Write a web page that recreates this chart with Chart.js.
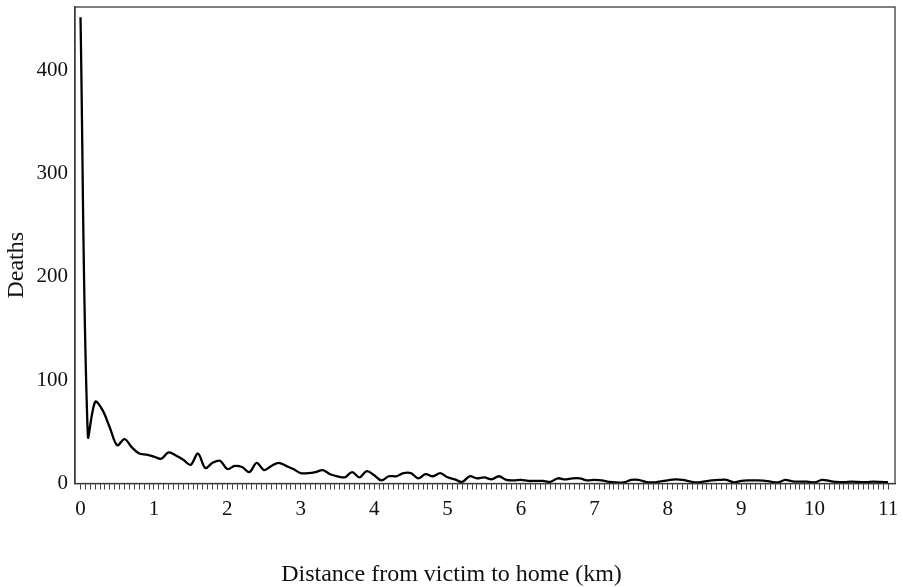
<!DOCTYPE html>
<html>
<head>
<meta charset="utf-8">
<script src="https://cdn.jsdelivr.net/npm/chart.js@4/dist/chart.umd.min.js"></script>
<style>
  html, body { margin: 0; padding: 0; background: #fff; }
  #wrap { width: 903px; height: 587px; }
</style>
</head>
<body>
<div id="wrap"><canvas id="chart"></canvas></div>
<script>
// --- Data (deaths per 0.1 km distance bin) ---
const DEATHS = [
  451, 46, 79, 71, 54, 37, 43, 35, 29, 28,
  26, 24, 30, 27, 23, 18, 29, 15, 20, 22,
  14, 17, 16, 11, 20, 13, 17, 20, 17, 14,
  10, 10, 11, 13, 9, 7, 6, 11, 6, 12,
  8, 3, 7, 7, 10, 10, 5, 9, 7, 10,
  6, 4, 1.5, 7, 5, 6, 4, 7, 3.5, 3,
  3.5, 2.5, 2.5, 2.5, 1.5, 5, 4, 5, 5, 3,
  3.5, 3, 1.5, 1, 1, 3.5, 3.5, 1.5, 1, 2,
  3, 4, 3.5, 2, 1, 2, 3, 3.5, 3.5, 1,
  2.5, 3, 3, 2.8, 1.8, 1, 3.5, 2, 1.8, 1.8,
  1, 3.5, 2.5, 1.5, 1.2, 1.8, 1.5, 1.2, 1.8, 1.5,
  1.2
];
const BIN_KM = 0.1;
const DISTANCE_KM = DEATHS.map((_, i) => +(i * BIN_KM).toFixed(1));

const X_LABELS = [0, 1, 2, 3, 4, 5, 6, 7, 8, 9, 10, 11];
const Y_LABELS = [0, 100, 200, 300, 400];
const MINOR_PER_KM = 15;   // small tick marks along the distance axis

const X_TITLE = 'Distance from victim to home (km)';
const Y_TITLE = 'Deaths';

const SERIF = '"Liberation Serif", "DejaVu Serif", serif';
const INK = '#111';
const FRAME_COLOR = '#3a3a3a';

// --- Plugins ---
// box round the plot area plus both axis titles
// (x title is centred on the page, y title sits a bit below the middle in the original)
const framePlugin = {
  id: 'frame',
  afterDraw(chart) {
    const { ctx, chartArea: a } = chart;
    ctx.save();
    ctx.strokeStyle = FRAME_COLOR;
    ctx.lineWidth = 1.3;
    ctx.strokeRect(a.left, a.top, a.right - a.left, a.bottom - a.top);

    ctx.fillStyle = INK;
    ctx.font = `24px ${SERIF}`;
    ctx.textAlign = 'center';
    ctx.textBaseline = 'middle';
    ctx.fillText(X_TITLE, chart.width / 2, chart.height - 12);

    ctx.translate(a.left - 58, (a.top + a.bottom) / 2 + 20);
    ctx.rotate(-Math.PI / 2);
    ctx.fillText(Y_TITLE, 0, 0);
    ctx.restore();
  }
};

function noEdgePadding(scale) {
  scale.paddingTop = 0;
  scale.paddingBottom = 0;
  scale.paddingLeft = 0;
  scale.paddingRight = 0;
}

const points = DISTANCE_KM.map((x, i) => ({ x, y: DEATHS[i] }));

new Chart(document.getElementById('chart'), {
  type: 'line',
  data: {
    datasets: [{
      data: points,
      borderColor: '#000',
      borderWidth: 2.3,
      pointRadius: 0,
      tension: 0.35,
      fill: false
    }]
  },
  options: {
    responsive: true,
    maintainAspectRatio: false,
    animation: false,
    layout: { padding: { top: 7, right: 8, bottom: 59.5, left: 0 } },
    plugins: {
      legend: { display: false },
      tooltip: { enabled: false },
      title: { display: false }
    },
    scales: {
      x: {
        type: 'linear',
        min: -0.075,
        max: 11.095,
        afterBuildTicks(scale) {
          const ticks = [];
          for (let k = 0; k <= X_LABELS[X_LABELS.length - 1] * MINOR_PER_KM; k++) {
            ticks.push({ value: k / MINOR_PER_KM });
          }
          scale.ticks = ticks;
        },
        afterFit(scale) {
          noEdgePadding(scale);
          scale.height = 44;
        },
        grid: {
          drawOnChartArea: false,
          drawTicks: true,
          tickLength: 6,
          color: '#444',
          lineWidth: 1
        },
        border: { display: true, color: '#000', width: 1.3 },
        ticks: {
          autoSkip: false,
          maxRotation: 0,
          padding: 7,
          color: INK,
          font: { family: SERIF, size: 21 },
          callback: (v) => {
            const r = Math.round(v);
            return Math.abs(v - r) < 1e-6 && X_LABELS.includes(r) ? String(r) : '';
          }
        }
      },
      y: {
        type: 'linear',
        min: 0,
        max: 461,
        afterBuildTicks(scale) {
          scale.ticks = Y_LABELS.map(v => ({ value: v }));
        },
        afterFit(scale) {
          noEdgePadding(scale);
          scale.width = 75;
        },
        grid: { drawOnChartArea: false, drawTicks: false },
        border: { display: true, color: FRAME_COLOR, width: 1.3 },
        ticks: {
          padding: 7,
          color: INK,
          font: { family: SERIF, size: 21 }
        }
      }
    }
  },
  plugins: [framePlugin]
});
</script>
</body>
</html>
